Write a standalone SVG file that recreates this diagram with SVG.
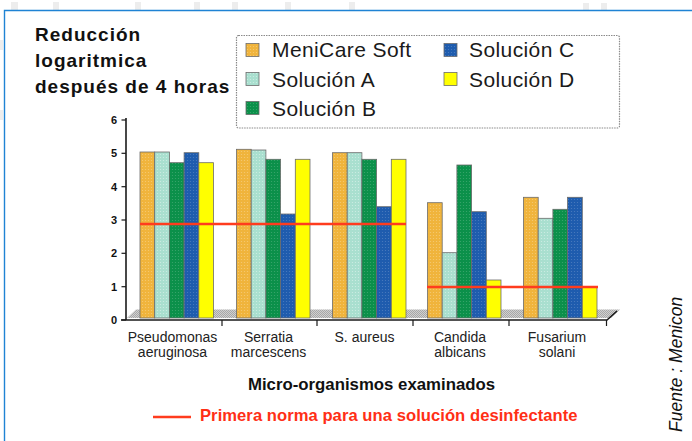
<svg xmlns="http://www.w3.org/2000/svg" width="692" height="441" viewBox="0 0 692 441">
<style>
  .title{font-family:"Liberation Sans",Arial,sans-serif;font-weight:bold;font-size:19px;letter-spacing:1px;fill:#111}
  .leg{font-family:"Liberation Sans",Arial,sans-serif;font-size:21px;letter-spacing:0.4px;fill:#1a1a1a}
  .ylab{font-family:"Liberation Sans",Arial,sans-serif;font-weight:bold;font-size:11px;fill:#111;text-anchor:end}
  .cat{font-family:"Liberation Sans",Arial,sans-serif;font-size:14px;fill:#222;text-anchor:middle}
  .axt{font-family:"Liberation Sans",Arial,sans-serif;font-weight:bold;font-size:16.8px;fill:#111}
  .redt{font-family:"Liberation Sans",Arial,sans-serif;font-weight:bold;font-size:16.6px;letter-spacing:0.05px;fill:#ff2f16}
  .src{font-family:"Liberation Sans",Arial,sans-serif;font-style:italic;font-size:17.5px;fill:#111}
  .bar{stroke:#6b6b6b;stroke-width:0.8}
  .axis{stroke:#1a1a1a;stroke-width:1.6;fill:none}
  .tick{stroke:#1a1a1a;stroke-width:1.2}
  .norm{stroke:#ff3c1e;stroke-width:2.6}
  .ms{fill:url(#pMS)} .sa{fill:url(#pSA)} .sb{fill:url(#pSB)} .sc{fill:url(#pSC)} .sd{fill:url(#pSD)}
</style>
<defs>
  <pattern id="pMS" width="3" height="3" patternUnits="userSpaceOnUse"><rect width="3" height="3" fill="#f0b43c"/><circle cx="1.5" cy="1.5" r="0.6" fill="#fff" opacity="0.3"/></pattern>
  <pattern id="pSA" width="3" height="3" patternUnits="userSpaceOnUse"><rect width="3" height="3" fill="#a9dfcf"/><circle cx="1.5" cy="1.5" r="0.6" fill="#fff" opacity="0.45"/></pattern>
  <pattern id="pSB" width="3" height="3" patternUnits="userSpaceOnUse"><rect width="3" height="3" fill="#0b904a"/><circle cx="1.5" cy="1.5" r="0.6" fill="#fff" opacity="0.2"/></pattern>
  <pattern id="pSC" width="3" height="3" patternUnits="userSpaceOnUse"><rect width="3" height="3" fill="#1e5cae"/><circle cx="1.5" cy="1.5" r="0.6" fill="#fff" opacity="0.2"/></pattern>
  <pattern id="pSD" width="3" height="3" patternUnits="userSpaceOnUse"><rect width="3" height="3" fill="#ffff00"/></pattern>
  <pattern id="pFloor" width="2" height="2" patternUnits="userSpaceOnUse"><rect width="2" height="2" fill="#d0d0d0"/><rect width="1" height="1" fill="#a8a8a8"/><rect x="1" y="1" width="1" height="1" fill="#a8a8a8"/></pattern>
</defs>
<rect width="692" height="441" fill="#fff"/>
<g id="background-marks" fill="#ededed">
  <rect x="11" y="2" width="7" height="8"/><rect x="53" y="2" width="6" height="8"/><rect x="135" y="2" width="6" height="8"/>
  <rect x="194" y="2" width="6" height="8"/><rect x="232" y="2" width="6" height="8"/><rect x="285" y="2" width="6" height="8"/>
  <rect x="349" y="2" width="6" height="8"/><rect x="583" y="3" width="6" height="7"/><rect x="601" y="3" width="6" height="7"/>
  <rect x="0" y="40" width="3" height="10"/><rect x="0" y="110" width="3" height="10"/>
</g>
<g id="frame"><path d="M4.5,441 V10.5 H692" fill="none" stroke="#1f83d4" stroke-width="1.4"/></g>

<g id="title">
  <text class="title" x="35" y="40.5">Reducción</text>
  <text class="title" x="35" y="67">logaritmica</text>
  <text class="title" x="35" y="93">después de 4 horas</text>
</g>

<g id="legend">
  <rect x="236.5" y="35.5" width="383" height="92.5" rx="2" fill="#fff" stroke="#8a8a8a" stroke-width="1.2" stroke-dasharray="1.5 1"/>
  <rect class="bar ms" x="246" y="43.5" width="13" height="13"/>
  <text class="leg" x="272" y="57.3">MeniCare Soft</text>
  <rect class="bar sa" x="246" y="72.5" width="13" height="13"/>
  <text class="leg" x="272" y="86.7">Solución A</text>
  <rect class="bar sb" x="246" y="101.5" width="13" height="13"/>
  <text class="leg" x="272" y="115.7">Solución B</text>
  <rect class="bar sc" x="444" y="43.5" width="13" height="13"/>
  <text class="leg" x="469" y="57.3">Solución C</text>
  <rect class="bar sd" x="444" y="72.5" width="13" height="13"/>
  <text class="leg" x="469" y="86.7">Solución D</text>
</g>

<g id="floor"><polygon points="127,318 136,309.5 620,309.5 611,318" fill="url(#pFloor)"/></g>

<g id="y-axis">
  <line class="axis" x1="126" y1="118" x2="126" y2="320"/>
  <g class="tick">
    <line x1="121.5" y1="320" x2="126" y2="320"/><line x1="121.5" y1="286.7" x2="126" y2="286.7"/>
    <line x1="121.5" y1="253.3" x2="126" y2="253.3"/><line x1="121.5" y1="220" x2="126" y2="220"/>
    <line x1="121.5" y1="186.7" x2="126" y2="186.7"/><line x1="121.5" y1="153.3" x2="126" y2="153.3"/>
    <line x1="121.5" y1="120" x2="126" y2="120"/>
  </g>
  <text class="ylab" x="117" y="324">0</text>
  <text class="ylab" x="117" y="290.7">1</text>
  <text class="ylab" x="117" y="257.3">2</text>
  <text class="ylab" x="117" y="224">3</text>
  <text class="ylab" x="117" y="190.7">4</text>
  <text class="ylab" x="117" y="157.3">5</text>
  <text class="ylab" x="117" y="124">6</text>
</g>

<g id="group-pseudomonas">
  <rect class="bar ms" x="140" y="152" width="14.7" height="166"/>
  <rect class="bar sa" x="154.7" y="152" width="14.7" height="166"/>
  <rect class="bar sb" x="169.4" y="162.7" width="14.7" height="155.3"/>
  <rect class="bar sc" x="184.1" y="152.7" width="14.7" height="165.3"/>
  <rect class="bar sd" x="198.8" y="162.7" width="14.7" height="155.3"/>
  <text class="cat" x="172.5" y="342">Pseudomonas</text>
  <text class="cat" x="172.5" y="357">aeruginosa</text>
</g>
<g id="group-serratia">
  <rect class="bar ms" x="236.5" y="149.3" width="14.7" height="168.7"/>
  <rect class="bar sa" x="251.2" y="150" width="14.7" height="168"/>
  <rect class="bar sb" x="265.9" y="159.3" width="14.7" height="158.7"/>
  <rect class="bar sc" x="280.6" y="214" width="14.7" height="104"/>
  <rect class="bar sd" x="295.3" y="159.3" width="14.7" height="158.7"/>
  <text class="cat" x="268.5" y="342">Serratia</text>
  <text class="cat" x="268.5" y="357">marcescens</text>
</g>
<g id="group-saureus">
  <rect class="bar ms" x="332.5" y="152.7" width="14.7" height="165.3"/>
  <rect class="bar sa" x="347.2" y="152.7" width="14.7" height="165.3"/>
  <rect class="bar sb" x="361.9" y="159.3" width="14.7" height="158.7"/>
  <rect class="bar sc" x="376.6" y="206.7" width="14.7" height="111.3"/>
  <rect class="bar sd" x="391.3" y="159.3" width="14.7" height="158.7"/>
  <text class="cat" x="364.5" y="342">S. aureus</text>
</g>
<g id="group-candida">
  <rect class="bar ms" x="427.5" y="202.7" width="14.7" height="115.3"/>
  <rect class="bar sa" x="442.2" y="252.7" width="14.7" height="65.3"/>
  <rect class="bar sb" x="456.9" y="165" width="14.7" height="153"/>
  <rect class="bar sc" x="471.6" y="211.7" width="14.7" height="106.3"/>
  <rect class="bar sd" x="486.3" y="280" width="14.7" height="38"/>
  <text class="cat" x="460" y="342">Candida</text>
  <text class="cat" x="460" y="357">albicans</text>
</g>
<g id="group-fusarium">
  <rect class="bar ms" x="523.5" y="197.3" width="14.7" height="120.7"/>
  <rect class="bar sa" x="538.2" y="218.3" width="14.7" height="99.7"/>
  <rect class="bar sb" x="552.9" y="209.3" width="14.7" height="108.7"/>
  <rect class="bar sc" x="567.6" y="197.3" width="14.7" height="120.7"/>
  <rect class="bar sd" x="582.3" y="287.3" width="14.7" height="30.7"/>
  <text class="cat" x="557" y="342">Fusarium</text>
  <text class="cat" x="557" y="357">solani</text>
</g>

<g id="x-axis">
  <path class="axis" d="M121,320 H607 L617,311"/>
  <g class="tick">
    <line x1="222" y1="320" x2="222" y2="326"/><line x1="317" y1="320" x2="317" y2="326"/>
    <line x1="413" y1="320" x2="413" y2="326"/><line x1="509" y1="320" x2="509" y2="326"/>
    <line x1="606.5" y1="320" x2="606.5" y2="326"/>
  </g>
  <text class="axt" x="371.5" y="390" text-anchor="middle">Micro-organismos examinados</text>
</g>

<g id="connectors">
  <line class="norm" x1="140" y1="224" x2="406" y2="224"/>
  <line class="norm" x1="427" y1="287" x2="598" y2="287"/>
</g>

<g id="norm-legend">
  <line class="norm" x1="153" y1="417" x2="191" y2="417" stroke-width="3"/>
  <text class="redt" x="200" y="421">Primera norma para una solución desinfectante</text>
</g>

<g id="source">
  <text class="src" transform="translate(682,432) rotate(-90)">Fuente : Menicon</text>
</g>
</svg>
